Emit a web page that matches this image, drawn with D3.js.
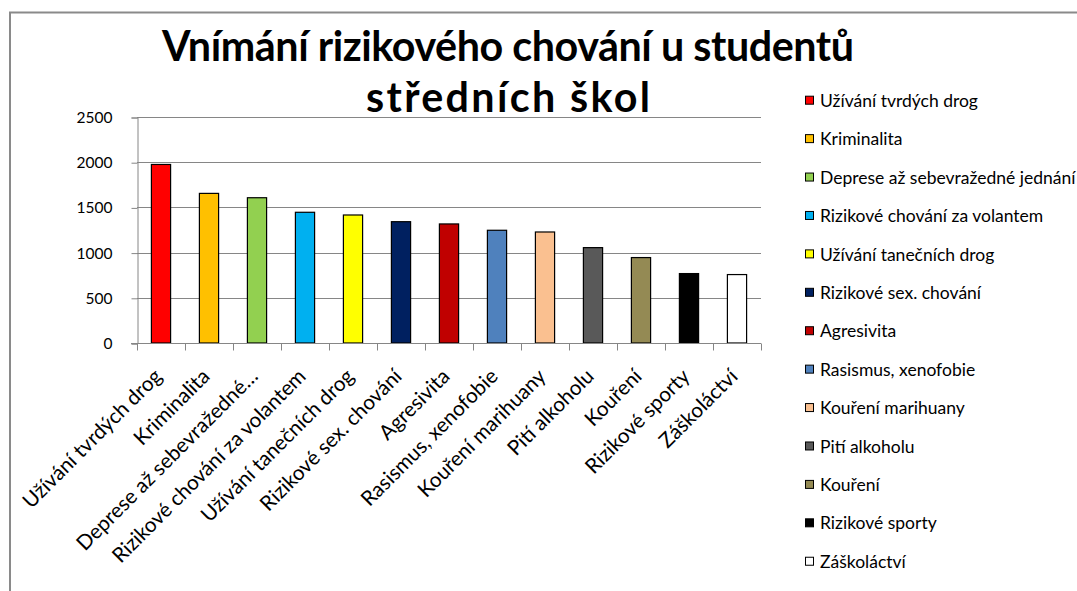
<!DOCTYPE html>
<html>
<head>
<meta charset="utf-8">
<script src="https://cdn.jsdelivr.net/npm/d3@7"></script>
<style>
  html, body { margin: 0; padding: 0; background: #fff; overflow: hidden; }
  text { font-family: Lato, "Open Sans", sans-serif; fill: #000; }
</style>
</head>
<body>
<div id="chart"></div>
<script>
// data
const categories = ["Užívání tvrdých drog", "Kriminalita", "Deprese až sebevražedné jednání",
  "Rizikové chování za volantem", "Užívání tanečních drog", "Rizikové sex. chování", "Agresivita",
  "Rasismus, xenofobie", "Kouření marihuany", "Pití alkoholu", "Kouření", "Rizikové sporty", "Záškoláctví"];
const values = [1975, 1655, 1607, 1446, 1416, 1342, 1317, 1247, 1228, 1055, 945, 768, 757];
const barColors = ["#FF0000", "#FFC000", "#92D050", "#00B0F0", "#FFFF00", "#002060", "#C00000",
  "#4F81BD", "#FAC090", "#595959", "#948A54", "#000000", "#FFFFFF"];
const yTicks = [0, 500, 1000, 1500, 2000, 2500];
const titleLines = ["Vnímání rizikového chování u studentů", "středních škol"];
const titleWidths = [692, 284];

const width = 1077, height = 591;
const plot = {left: 137, right: 761, top: 117, bottom: 343};

const svg = d3.select("#chart").append("svg")
    .attr("width", width).attr("height", height);

// pick a font size so a string gets the width it has in the reference
function fitSize(str, target, weight) {
    let t = svg.append("text").attr("font-size", 100).attr("font-weight", weight || "normal").text(str);
    let w = t.node().getComputedTextLength();
    t.remove();
    return 100 * target / w;
}
const legendSize = fitSize("Užívání tvrdých drog", 158);
const axisSize = legendSize * 13 / 11;
const yLabelSize = fitSize("2500", 36);
const titleSize = fitSize(titleLines[0], 708, "bold");

// chart border (runs off the right and bottom edge)
svg.append("rect")
    .attr("x", 10).attr("y", 12.5)
    .attr("width", 1200).attr("height", 700)
    .attr("fill", "none").attr("stroke", "#8a8a8a").attr("stroke-width", 2);

// title
svg.append("g").selectAll("text")
    .data(titleLines)
    .enter()
    .append("text")
    .attr("x", 508)
    .attr("y", (d, i) => 61 + i * 51)
    .attr("text-anchor", "middle")
    .attr("font-weight", "bold")
    .attr("font-size", titleSize)
    .attr("textLength", (d, i) => titleWidths[i])
    .attr("lengthAdjust", "spacing")
    .text(d => d);

const x = d3.scaleBand().domain(categories).range([plot.left, plot.right]).paddingInner(0.6).paddingOuter(0.3);
const xb = d3.scaleBand().domain(categories).range([plot.left, plot.right]);
const y = d3.scaleLinear().domain([0, 2500]).range([plot.bottom, plot.top]);

// gridlines
svg.append("g").selectAll("line")
    .data(yTicks.slice(1))
    .enter()
    .append("line")
    .attr("x1", plot.left).attr("x2", plot.right)
    .attr("y1", d => Math.round(y(d)) + 0.5).attr("y2", d => Math.round(y(d)) + 0.5)
    .attr("stroke", "#868686").attr("stroke-width", 1);

// y axis
let yAxis = svg.append("g")
    .attr("transform", "translate(" + (plot.left + 0.5) + ",0.5)")
    .call(d3.axisLeft(y).tickValues(yTicks).tickSize(6).tickPadding(19).tickFormat(d3.format("d")));
yAxis.select(".domain").attr("stroke", "#868686");
yAxis.selectAll(".tick line").attr("stroke", "#868686");
yAxis.selectAll(".tick text")
    .attr("font-family", "Lato").attr("font-size", yLabelSize).attr("fill", "#000");

// bars
svg.append("g").selectAll("rect")
    .data(values)
    .enter()
    .append("rect")
    .attr("x", (d, i) => x(categories[i]))
    .attr("y", d => y(d))
    .attr("width", x.bandwidth())
    .attr("height", d => y(0) - y(d))
    .attr("fill", (d, i) => barColors[i])
    .attr("stroke", "#000")
    .attr("stroke-width", 1.2);

// x axis with ticks between categories
let xg = svg.append("g").attr("transform", "translate(0," + (plot.bottom + 0.5) + ")");
xg.append("line")
    .attr("x1", plot.left - 6).attr("x2", plot.right)
    .attr("stroke", "#868686");
xg.selectAll("line.tk")
    .data(d3.range(categories.length + 1))
    .enter()
    .append("line")
    .attr("class", "tk")
    .attr("x1", i => plot.left + i * xb.step() + 0.5)
    .attr("x2", i => plot.left + i * xb.step() + 0.5)
    .attr("y1", 0).attr("y2", 7)
    .attr("stroke", "#868686");

function shortLabel(s) {
    if (s.length <= 28) return s;
    let out = "";
    for (let w of s.split(" ")) {
        if ((out + " " + w).trim().length > 24) break;
        out = (out + " " + w).trim();
    }
    return out + "…";
}

xg.selectAll("text")
    .data(categories)
    .enter()
    .append("text")
    .attr("transform", d => "translate(" + (xb(d) + xb.bandwidth() / 2 - 3) + ",29) rotate(-45)")
    .attr("text-anchor", "end")
    .attr("dy", "0.35em")
    .attr("font-size", axisSize)
    .text(d => shortLabel(d));

// legend
let legend = svg.append("g").selectAll("g")
    .data(categories)
    .enter()
    .append("g")
    .attr("transform", (d, i) => "translate(805," + (100.7 + i * 38.42) + ")");
legend.append("rect")
    .attr("x", 0.5).attr("y", -4.5)
    .attr("width", 8).attr("height", 8)
    .attr("fill", (d, i) => barColors[i])
    .attr("stroke", "#000").attr("stroke-width", 1);
legend.append("text")
    .attr("x", 15)
    .attr("dy", "0.35em")
    .attr("font-size", legendSize)
    .text(d => d);
</script>
</body>
</html>
